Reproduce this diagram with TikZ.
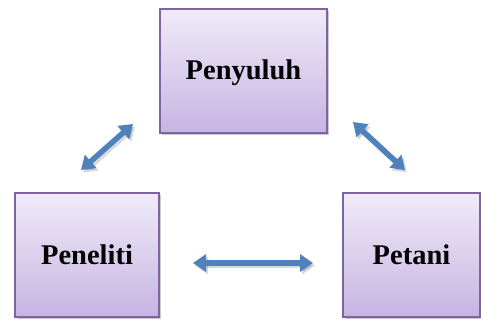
\documentclass[tikz,border=0pt]{standalone}
\usepackage{fontspec}
\setmainfont{Liberation Serif}
\usetikzlibrary{arrows.meta,shadows,calc}
\definecolor{boxborder}{HTML}{8064A2}
\definecolor{boxtop}{HTML}{F0EBF8}
\definecolor{boxbot}{HTML}{C6B4E2}
\definecolor{arrowblue}{HTML}{4F81BD}
\tikzset{
  actor/.style={draw=boxborder, line width=1.4pt, top color=boxtop, bottom color=boxbot,
    font=\fontsize{28.5}{30}\selectfont\bfseries, text=black,
    drop shadow={shadow xshift=1.5pt, shadow yshift=-2pt, opacity=0.35, fill=black!60}},
  link/.style={draw=arrowblue, line width=5.5pt,
    {Triangle[width=17pt,length=13pt]}-{Triangle[width=17pt,length=13pt]}},
  linkshadow/.style={draw=black, opacity=0.15, line width=5.5pt,
    {Triangle[width=17pt,length=13pt]}-{Triangle[width=17pt,length=13pt]}}
}
\begin{document}
\begin{tikzpicture}[x=1pt,y=-1pt]
\useasboundingbox (0,0) rectangle (481,320);
\node[actor, minimum width=167pt, minimum height=124pt, text depth=2pt] (penyuluh) at (243.5,71) {Penyuluh};
\node[actor, minimum width=144pt, minimum height=124pt] (peneliti) at (87,255) {Peneliti};
\node[actor, minimum width=137pt, minimum height=124pt] (petani) at (411.5,255) {Petani};
% arrow end points
\coordinate (l1) at (81,170);
\coordinate (l2) at (133,124);
\coordinate (r1) at (353,122);
\coordinate (r2) at (405,170);
\coordinate (h1) at (193,263);
\coordinate (h2) at (313,263);
% shadows
\draw[linkshadow] ($(l1)+(2,2.5)$) -- ($(l2)+(2,2.5)$);
\draw[linkshadow] ($(r1)+(2,2.5)$) -- ($(r2)+(2,2.5)$);
\draw[linkshadow] ($(h1)+(2,2.5)$) -- ($(h2)+(2,2.5)$);
% arrows
\draw[link] (l1) -- (l2);
\draw[link] (r1) -- (r2);
\draw[link] (h1) -- (h2);
\end{tikzpicture}
\end{document}
